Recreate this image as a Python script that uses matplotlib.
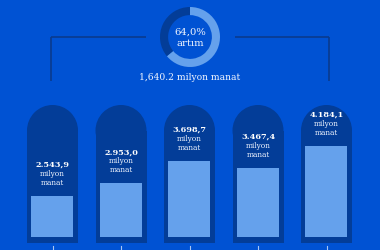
import matplotlib.pyplot as plt
from matplotlib.patches import Circle, Rectangle
import numpy as np

# data
values = [2543.9, 2953.0, 3698.7, 3467.4, 4184.1]
unit_line1 = 'milyon'
unit_line2 = 'manat'
growth_pct = 64.0
growth_abs = 1640.2
growth_word = 'artım'

# colours
BG = '#0052d3'
CAPSULE = '#033d98'
BAR = '#65a1ec'
LINE = '#0a3a8e'
TICK = '#a9c6f3'
TXT = '#f2f6ff'

FONT = 'DejaVu Serif'


def az_num(v):
    s = f'{v:,.1f}'
    return s.replace(',', ' ').replace('.', ',').replace(' ', '.')


def Main():
    fig = plt.figure(figsize=(3.8, 2.5), dpi=100, facecolor=BG)

    # background layer in pixel coordinates
    bg = fig.add_axes([0, 0, 1, 1])
    bg.set_xlim(0, 380)
    bg.set_ylim(250, 0)
    bg.axis('off')

    n = len(values)
    step = 68.5
    first = 52.5
    cap_w = 51
    for i in range(n):
        cx = first + step * i
        r = cap_w / 2
        bg.add_patch(Circle((cx, 105 + r), r, color=CAPSULE, lw=0))
        bg.add_patch(Rectangle((cx - r, 105 + r), cap_w, 243 - 105 - r,
                               color=CAPSULE, lw=0))
        bg.plot([cx, cx], [246, 250], color=TICK, lw=0.8)

    # bracket lines
    bg.plot([51, 146], [37, 37], color=LINE, lw=1.2, solid_capstyle='butt')
    bg.plot([51, 51], [37, 81], color=LINE, lw=1.2, solid_capstyle='butt')
    bg.plot([235, 329], [37, 37], color=LINE, lw=1.2, solid_capstyle='butt')
    bg.plot([329, 329], [37, 81], color=LINE, lw=1.2, solid_capstyle='butt')

    bg.text(190, 77, f'{growth_abs:,.1f} milyon manat', ha='center',
            va='center', color=TXT, fontsize=6.6, family=FONT)

    # donut
    dn = fig.add_axes([160 / 380, (250 - 67) / 250, 60 / 380, 60 / 250])
    dn.pie([growth_pct, 100 - growth_pct], colors=[BAR, CAPSULE],
           startangle=90, counterclock=False, radius=1,
           wedgeprops=dict(width=0.27, lw=0))
    dn.set_xlim(-1, 1)
    dn.set_ylim(-1, 1)
    dn.set_aspect('equal')
    dn.axis('off')
    dn.text(0, 0.15, f'{growth_pct:.1f}%'.replace('.', ','), ha='center',
            va='center', color=TXT, fontsize=7.2, family=FONT)
    dn.text(0, -0.2, growth_word, ha='center', va='center', color=TXT,
            fontsize=7.2, family=FONT)

    # bars
    base = 1178
    px_per_unit = 0.0303
    ax = fig.add_axes([0, (250 - 237) / 250, 1, (237 - 105) / 250])
    ax.set_facecolor('none')
    ax.set_xlim(-first / step, (380 - first) / step)
    ax.set_ylim(base, base + 132 / px_per_unit)
    ax.axis('off')
    x = np.arange(n)
    ax.bar(x, values, width=42 / step, color=BAR, lw=0)
    for xi, v in zip(x, values):
        ax.annotate(az_num(v), (xi, v), xytext=(0, 31),
                    textcoords='offset pixels', ha='center', va='center',
                    color='white', fontsize=5.9, fontweight='bold',
                    family=FONT)
        ax.annotate(unit_line1, (xi, v), xytext=(0, 22),
                    textcoords='offset pixels', ha='center', va='center',
                    color=TXT, fontsize=5.3, family=FONT)
        ax.annotate(unit_line2, (xi, v), xytext=(0, 13),
                    textcoords='offset pixels', ha='center', va='center',
                    color=TXT, fontsize=5.3, family=FONT)

    fig.savefig('out.png', dpi=100, facecolor=BG)


if __name__ == '__main__':
    Main()
